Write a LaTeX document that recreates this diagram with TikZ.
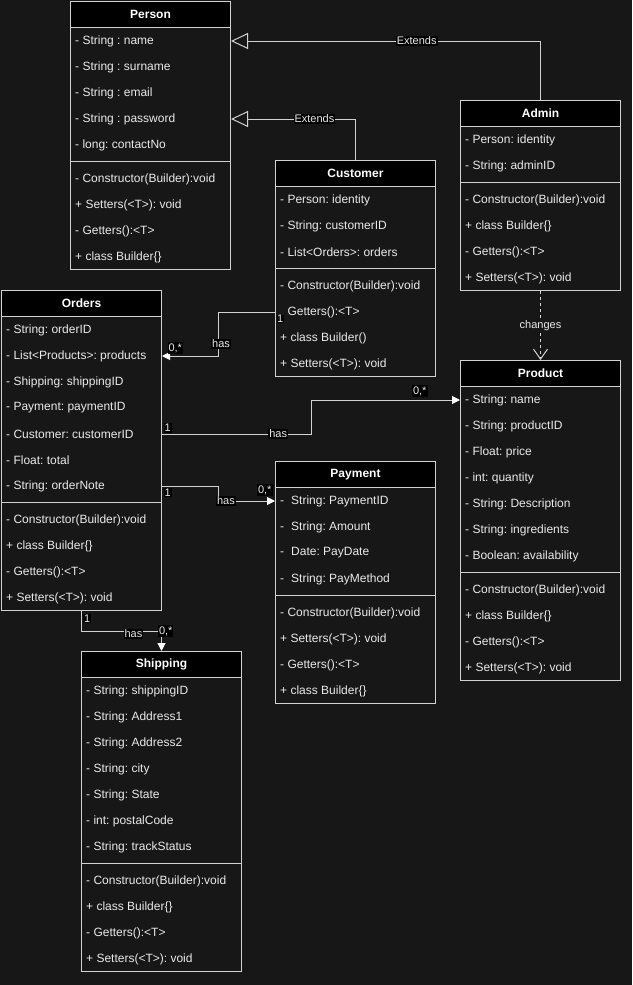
\documentclass[tikz,border=0pt]{standalone}
\usepackage{fontspec}
\setmainfont{Liberation Sans}
\usetikzlibrary{arrows.meta}
\frenchspacing
\definecolor{bg}{HTML}{171717}
\definecolor{ln}{HTML}{D2D2D2}
\definecolor{tx}{HTML}{EAEAEA}
\tikzset{
  frame/.style={draw=ln, line width=1pt},
  classbox/.style={frame, fill=bg, minimum width=160pt, inner sep=0pt, anchor=north west},
  headbox/.style={frame, fill=black, text=white, font=\bfseries\fontsize{12}{14}\selectfont,
    minimum width=160pt, minimum height=26pt, inner sep=0pt, anchor=north west},
  rowtext/.style={text=tx, font=\fontsize{12}{14}\selectfont, anchor=west, inner sep=0pt},
  lbl/.style={fill=black, text=tx, font=\fontsize{11}{12}\selectfont, inner sep=1pt},
  conn/.style={draw=ln, line width=1pt},
  extarrow/.style={conn, -{Triangle[open, length=17pt, width=16pt, fill=bg]}},
  hasarrow/.style={conn, -{Triangle[length=8pt, width=8pt, fill=white, color=white]}},
  deparrow/.style={conn, dash pattern=on 3pt off 3pt, -{Straight Barb[length=10pt, width=14pt]}},
}
% #1 name, #2 left, #3 top, #4 title, #5 n attrs, #6 n methods, #7 attrs, #8 methods
\newcommand{\umlclass}[8]{%
  \pgfmathsetmacro{\hh}{26+26*#5+8+26*#6}%
  \pgfmathsetmacro{\yd}{#3+26+26*#5+4}%
  \pgfmathsetmacro{\ym}{#3+26+26*#5+8}%
  \node[classbox, minimum height=\hh pt] (#1) at (#2,#3) {};
  \node[headbox] (#1-head) at (#2,#3) {#4};
  \draw[frame] (#2,\yd) -- ++(160,0);
  \foreach \t [count=\i] in {#7} {\node[rowtext] (#1-a\i) at (#2+5,#3+14+26*\i) {\t};}
  \foreach \t [count=\i] in {#8} {\node[rowtext] (#1-m\i) at (#2+5,\ym-12+26*\i) {\t};}
}
\begin{document}
\begin{tikzpicture}[x=1pt,y=-1pt]
\fill[bg] (0,0) rectangle (632,985);
\useasboundingbox (0,0) rectangle (632,985);

\umlclass{person}{70}{1}{Person}{5}{4}
  {- String : name, - String : surname, - String : email, - String : password, - long: contactNo}
  {- Constructor(Builder):void, + Setters(<T>): void, - Getters():<T>, + class Builder\{\}}

\umlclass{admin}{460}{100}{Admin}{2}{4}
  {- Person: identity, - String: adminID}
  {- Constructor(Builder):void, + class Builder\{\}, - Getters():<T>, + Setters(<T>): void}

\umlclass{customer}{275}{160}{Customer}{3}{4}
  {- Person: identity, - String: customerID, - List<Orders>: orders}
  {- Constructor(Builder):void, \phantom{- }Getters():<T>, + class Builder(), + Setters(<T>): void}

\umlclass{orders}{1}{290}{Orders}{7}{4}
  {- String: orderID, - List<Products>: products, - Shipping: shippingID, - Payment: paymentID, - Customer: customerID, - Float: total, - String: orderNote}
  {- Constructor(Builder):void, + class Builder\{\}, - Getters():<T>, + Setters(<T>): void}

\umlclass{product}{460}{360}{Product}{7}{4}
  {- String: name, - String: productID, - Float: price, - int: quantity, - String: Description, - String: ingredients, - Boolean: availability}
  {- Constructor(Builder):void, + class Builder\{\}, - Getters():<T>, + Setters(<T>): void}

\umlclass{payment}{275}{461}{Payment}{4}{4}
  {-\hspace{7pt}String: PaymentID, -\hspace{7pt}String: Amount, -\hspace{7pt}Date: PayDate, -\hspace{7pt}String: PayMethod}
  {- Constructor(Builder):void, + Setters(<T>): void, - Getters():<T>, + class Builder\{\}}

\umlclass{shipping}{81}{651}{Shipping}{7}{4}
  {- String: shippingID, - String: Address1, - String: Address2, - String: city, - String: State, - int: postalCode, - String: trackStatus}
  {- Constructor(Builder):void, + class Builder\{\}, - Getters():<T>, + Setters(<T>): void}

% generalisations
\draw[extarrow] (admin.north) |- node[lbl, pos=0.70] {Extends} (person.east |- person-a1.west);
\draw[extarrow] (customer.north) |- node[lbl, pos=0.665] {Extends} (person.east |- person-a4.west);

% dependency
\draw[deparrow] (admin.south) -- node[lbl, fill=bg, pos=0.5] {changes} (product.north);

% associations
\draw[hasarrow] (customer.west |- customer-m2.west)
    node[lbl, anchor=north west, inner sep=0.5pt, xshift=1pt, yshift=-2pt] {1}
  -- ++(-57,0) |- node[lbl, pos=0.36, xshift=3pt] {has}
  (orders.east |- orders-a2.west)
    node[lbl, anchor=south west, xshift=5pt, yshift=2pt] {0,*};

\draw[hasarrow] (orders.east |- orders-a5.west)
    node[lbl, anchor=south west, xshift=1pt, yshift=1pt] {1}
  -- node[lbl, pos=0.78] {has} ++(149,0)
  |- (product.west |- product-a1.west)
    node[lbl, anchor=south east, xshift=-32pt, yshift=3pt] {0,*};

\draw[hasarrow] (orders.east |- orders-a7.west)
    node[lbl, anchor=north west, xshift=1pt, yshift=-1pt] {1}
  -- ++(56,0) |- node[lbl, pos=0.57] {has}
  (payment.west |- payment-a1.west)
    node[lbl, anchor=south east, xshift=-2pt, yshift=5pt] {0,*};

\draw[hasarrow] (orders.south)
    node[lbl, anchor=north west, xshift=1pt, yshift=-2pt] {1}
  -- ++(0,20) -| node[lbl, pos=0.325, yshift=-3pt] {has}
  node[lbl, pos=0.5, anchor=west, xshift=-4pt, yshift=0pt] {0,*}
  (shipping.north);
\end{tikzpicture}
\end{document}
